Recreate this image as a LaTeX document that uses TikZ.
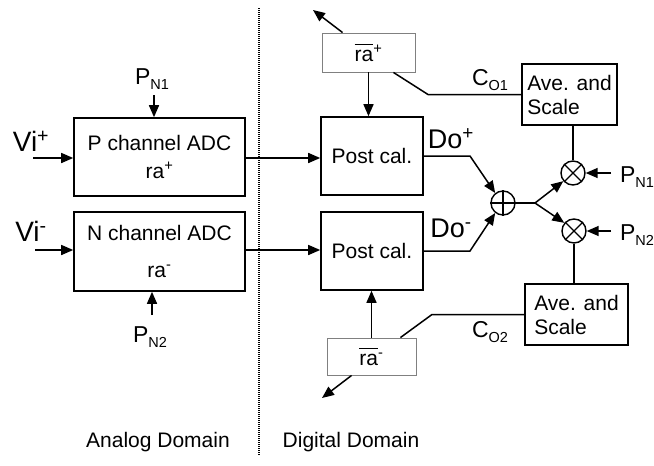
\documentclass[tikz,border=0pt]{standalone}
\usepackage{fontspec}
\setmainfont{Liberation Sans}
\usetikzlibrary{arrows.meta}
\newcommand{\sub}[1]{\raisebox{-5.5pt}{\fontsize{14.5}{15}\selectfont #1}}
\newcommand{\ovra}{\(\overline{\hbox{\vphantom{Ah}ra}}\)}
\begin{document}
\begin{tikzpicture}[x=1pt,y=-1pt,
  txt/.style={font=\fontsize{21}{24}\selectfont},
  box/.style={draw, line width=1.6pt, inner sep=0pt, align=center, txt},
  graybox/.style={draw=gray, line width=0.9pt, inner sep=0pt, align=center, txt},
  wire/.style={line width=1.5pt},
  arr/.style={wire, -{Triangle[length=12pt,width=10pt]}},
  opcirc/.style={circle, draw, line width=1.4pt, minimum size=24pt, inner sep=0pt},
  big/.style={font=\fontsize{28}{30}\selectfont, inner sep=0pt},
  mid/.style={font=\fontsize{27}{29}\selectfont, inner sep=0pt},
  lab/.style={font=\fontsize{23}{25}\selectfont, inner sep=0pt},
  domlabel/.style={font=\fontsize{21}{24}\selectfont, inner sep=0pt}
]
\useasboundingbox (0,0) rectangle (654,466);

% dotted divider
\draw[line width=1.2pt, dash pattern=on 1pt off 1pt] (259,8) -- (259,455);

% boxes
\node[box, minimum width=171pt, minimum height=78pt] (padc) at (159.5,157)
  {P channel ADC\\[4pt] ra\textsuperscript{+}};
\node[box, minimum width=171pt, minimum height=79pt] (nadc) at (159.5,251.5)
  {N channel ADC\\[13pt] ra\textsuperscript{-}};
\node[box, minimum width=102pt, minimum height=78pt] (postp) at (372,156) {Post cal.};
\node[box, minimum width=102pt, minimum height=78pt] (postn) at (372,251) {Post cal.};
\node[graybox, minimum width=93pt, minimum height=39pt] (rap) at (368.5,52.5) {\ovra\textsuperscript{+}};
\node[graybox, minimum width=89pt, minimum height=37pt] (ram) at (371.5,356.5) {\ovra\textsuperscript{-}};
\node[box, minimum width=95pt, minimum height=61pt, align=left] (avep) at (569.5,94.5) {Ave. and\\Scale};
\node[box, minimum width=103pt, minimum height=61pt, align=left] (aven) at (576.5,314.5) {Ave. and\\Scale};

% operators
\node[opcirc] (plus) at (503,203) {};
\draw[line width=2pt] (plus.north) -- (plus.south) (plus.east) -- (plus.west);
\node[opcirc] (mulp) at (573,173) {};
\draw[line width=1.2pt] (mulp.45) -- (mulp.225) (mulp.135) -- (mulp.315);
\node[opcirc] (muln) at (574,231) {};
\draw[line width=1.2pt] (muln.45) -- (muln.225) (muln.135) -- (muln.315);

% labels
\node[big] (vip) at (31,141) {Vi\textsuperscript{+}};
\node[big] (vim) at (31,231) {Vi\textsuperscript{-}};
\node[lab] (pn1t) at (152,79) {P\sub{N1}};
\node[lab] (pn2b) at (150,337) {P\sub{N2}};
\node[lab] (pn1r) at (637,177) {P\sub{N1}};
\node[lab] (pn2r) at (637,235) {P\sub{N2}};
\node[lab] (co1) at (490,80) {C\sub{O1}};
\node[lab] (co2) at (490,332) {C\sub{O2}};
\node[mid] (dop) at (451,139) {Do\textsuperscript{+}};
\node[mid] (dom) at (451,228) {Do\textsuperscript{-}};
\node[domlabel] (ad) at (158,442) {Analog Domain};
\node[domlabel] (dd) at (351,442) {Digital Domain};

% free ends
\coordinate (vipin) at (33,158);
\coordinate (vimin) at (35,250);
\coordinate (pn1in) at (154,95);
\coordinate (pn2in) at (152,315);
\coordinate (rapout) at (313,10);
\coordinate (ramout) at (322,398);
\coordinate (b1) at (428,94.5);
\coordinate (b2) at (432,314.5);
\coordinate (dpb) at (470,156);
\coordinate (dnb) at (470,251);
\coordinate (split) at (535,203);
\coordinate (pn1rin) at (611,173);
\coordinate (pn2rin) at (611,231);

% connectors
\draw[arr] (vipin) -- (vipin -| padc.west);
\draw[arr] (vimin) -- (vimin -| nadc.west);
\draw[arr] (pn1in) -- (pn1in |- padc.north);
\draw[arr] (pn2in) -- (pn2in |- nadc.south);
\draw[arr] (vipin -| padc.east) -- (vipin -| postp.west);
\draw[arr] (vimin -| nadc.east) -- (vimin -| postn.west);
\draw[arr] ([xshift=21pt]rap.north west) -- (rapout);
\draw[arr] (rap.south) -- (rap.south |- postp.north);
\draw[wire] (avep.west) -- (b1) -- ([xshift=-22pt]rap.south east);
\draw[arr] ([xshift=25pt]ram.south west) -- (ramout);
\draw[arr] (ram.north) -- (ram.north |- postn.south);
\draw[wire] (aven.west) -- (b2) -- ([xshift=-16pt]ram.north east);
\draw[arr] (postp.east) -- (dpb) -- (plus.128);
\draw[arr] (postn.east) -- (dnb) -- (plus.232);
\draw[wire] (plus.east) -- (split);
\draw[arr] (split) -- (mulp.220);
\draw[arr] (split) -- (muln.140);
\draw[wire] (mulp.north |- avep.south) -- (mulp.north);
\draw[wire] (muln.south) -- (muln.south |- aven.north);
\draw[arr] (pn1rin) -- (mulp.east);
\draw[arr] (pn2rin) -- (muln.east);
\end{tikzpicture}
\end{document}
